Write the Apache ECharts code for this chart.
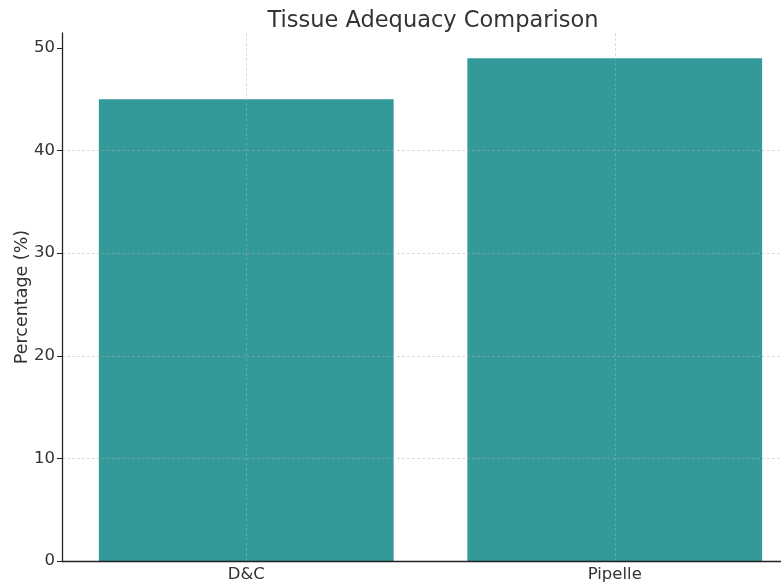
<!DOCTYPE html>
<html>
<head>
<meta charset="utf-8">
<script src="https://cdn.jsdelivr.net/npm/echarts@6/dist/echarts.min.js"></script>
<style>
  html, body { margin: 0; padding: 0; background: #fff; }
  #chart { width: 781px; height: 583px; }
</style>
</head>
<body>
<div id="chart"></div>
<script>
// Tissue sample adequacy by sampling method
const methods = ['D&C', 'Pipelle'];
const adequacyPct = [45, 49];
const yTicks = [0, 10, 20, 30, 40, 50];
const yMax = 51.45;

const gridStyle = { color: 'rgba(176,176,176,0.55)', type: [3, 2], width: 0.8 };
const textColor = '#333333';
const font = 'DejaVu Sans';

const chart = echarts.init(document.getElementById('chart'), null, { renderer: 'canvas' });
chart.setOption({
  animation: false,
  backgroundColor: '#ffffff',
  title: {
    text: 'Tissue Adequacy Comparison',
    left: 428, top: 5, textAlign: 'center',
    textStyle: { fontFamily: font, fontSize: 22.5, fontWeight: 'normal', color: textColor }
  },
  grid: { left: 62, top: 33, width: 737, height: 528, containLabel: false, outerBoundsMode: 'none' },
  xAxis: {
    type: 'category',
    data: methods,
    z: 5,
    axisLine: { lineStyle: { color: '#222', width: 1.3 } },
    axisTick: { alignWithLabel: true, length: 5, lineStyle: { color: '#222' } },
    axisLabel: { fontFamily: font, fontSize: 16.5, color: textColor, margin: 5 },
    splitLine: { show: false }
  },
  yAxis: {
    type: 'value',
    min: 0, max: yMax, interval: 10,
    z: 5,
    name: 'Percentage (%)',
    nameLocation: 'middle',
    nameGap: 31,
    nameMoveOverlap: false,
    nameTextStyle: { fontFamily: font, fontSize: 17.5, color: textColor },
    axisLine: { show: true, lineStyle: { color: '#222', width: 1.3 } },
    axisTick: { show: true, length: 5, customValues: yTicks, lineStyle: { color: '#222' } },
    axisLabel: { fontFamily: font, fontSize: 16.5, color: textColor, margin: 7, customValues: yTicks },
    splitLine: { show: true, showMinLine: false, showMaxLine: false, lineStyle: gridStyle }
  },
  series: [{
    type: 'bar',
    data: adequacyPct,
    barWidth: '80%',
    itemStyle: { color: '#339999' },
    markLine: {
      silent: true,
      symbol: 'none',
      label: { show: false },
      lineStyle: gridStyle,
      data: methods.map(m => ({ xAxis: m }))
    }
  }]
});
</script>
</body>
</html>
